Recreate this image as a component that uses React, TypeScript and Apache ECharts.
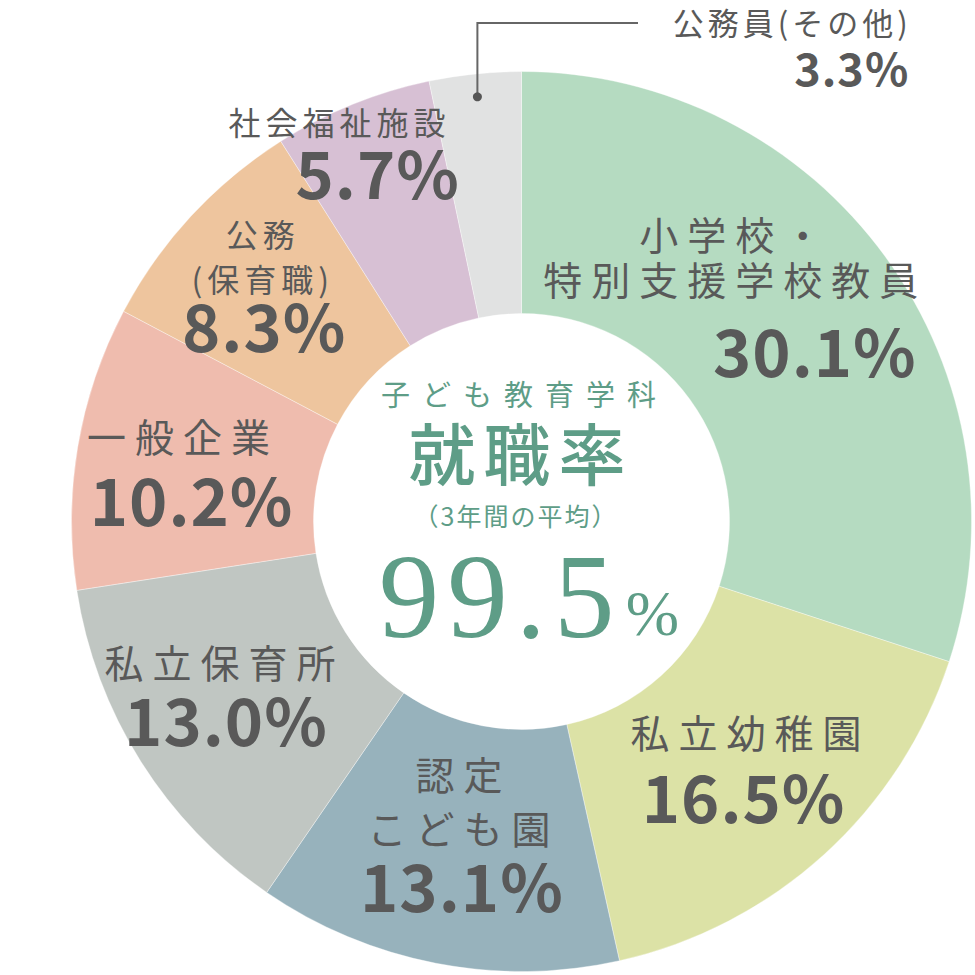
import React, { useEffect, useRef } from 'react';
import * as echarts from 'echarts';

// ---- data ----
const categories = [
  '小学校・\n特別支援学校教員',
  '私立幼稚園',
  '認定\nこども園',
  '私立保育所',
  '一般企業',
  '公務\n(保育職)',
  '社会福祉施設',
  '公務員(その他)',
];
const values = [30.1, 16.5, 13.1, 13.0, 10.2, 8.3, 5.7, 3.3];
const centerTitle = '子ども教育学科';
const centerHeading = '就職率';
const centerNote = '（3年間の平均）';
const centerRate = '99.5';
const centerUnit = '%';

// ---- styling ----
const colors = ['#b5dbc1', '#dce2a6', '#97b2bc', '#c0c6c2', '#efbcae', '#eec59e', '#d7c0d4', '#e1e2e2'];
const nameOffsets = [[-55, -71], [6, -36], [5, -47.5], [-16, -37.6], [-11, -32], [-15, -40.7], [-57, -92.7], [305, -170]];
const nameSizes = [39, 39, 39, 39, 39, 32, 32, 31];
const nameLineHeights = [45, 45, 54, 45, 45, 45, 45, 45];
const pctOffsets = [[24.5, 22.5], [-1, 28], [3.5, 36.5], [-14.5, 19.4], [-2.5, 31], [-13.5, 28], [-19, -42.7], [364.5, -124.5]];
const pctSizes = [65, 65, 65, 65, 65, 65, 65, 45];

const CX = 521.5;
const CY = 521.5;
const R0 = 208;
const R1 = 450;
const TEXT = '#595959';
const GREEN = '#5e9d87';
const JP = '"Noto Sans CJK JP", "Noto Sans", sans-serif';

const css = `
.chart-root text[style*="39px"]{letter-spacing:9px}
.chart-root text[style*="32px"]{letter-spacing:5px}
.chart-root text[style*="31px"]{letter-spacing:4px}
.chart-root text[style*="65px"]{letter-spacing:1px}
.chart-root text[style*="45px"]{letter-spacing:1px}
.chart-root text[style*="29px"]{letter-spacing:12px}
.chart-root text[style*="67px"]{letter-spacing:8px}
.chart-root text[style*="25px"]{letter-spacing:2px}
.chart-root text[style*="121px"]{letter-spacing:8px}
`;

export default function App() {
  const ref = useRef<HTMLDivElement>(null);
  useEffect(() => {
    if (!ref.current) return;
    const chart = echarts.init(ref.current, null, { renderer: 'svg' });
    const total = values.reduce((a, b) => a + b, 0);
    // leader dot for the last (smallest) slice, from pie geometry
    const before = values.slice(0, values.length - 1).reduce((a, b) => a + b, 0);
    const mid = ((before + values[values.length - 1] / 2) / total) * Math.PI * 2;
    const dotR = 427;
    const dx = CX + dotR * Math.sin(mid);
    const dy = CY - dotR * Math.cos(mid);

    const nameData = categories.map((n, i) => ({
      name: n,
      value: values[i],
      itemStyle: { color: colors[i] },
      label: {
        offset: nameOffsets[i],
        fontSize: nameSizes[i],
        lineHeight: nameLineHeights[i],
      },
    }));
    const pctData = categories.map((n, i) => ({
      name: n,
      value: values[i],
      label: { offset: pctOffsets[i], fontSize: pctSizes[i], lineHeight: Math.round(pctSizes[i] * 0.75) },
    }));

    chart.setOption({
      animation: false,
      backgroundColor: '#ffffff',
      series: [
        {
          type: 'pie',
          silent: true,
          center: [CX, CY],
          radius: [R0, R1],
          startAngle: 90,
          clockwise: true,
          avoidLabelOverlap: false,
          labelLayout: { hideOverlap: false },
          itemStyle: { borderColor: 'rgba(255,255,255,0.6)', borderWidth: 0.6 },
          label: {
            show: true,
            position: 'inside',
            formatter: (p: any) => p.name,
            color: TEXT,
            fontFamily: JP,
            fontWeight: 'normal',
            align: 'center',
          },
          labelLine: { show: false },
          data: nameData,
        },
        {
          type: 'pie',
          silent: true,
          center: [CX, CY],
          radius: [R0, R1],
          startAngle: 90,
          clockwise: true,
          avoidLabelOverlap: false,
          labelLayout: { hideOverlap: false },
          itemStyle: { color: 'rgba(0,0,0,0)', borderWidth: 0 },
          label: {
            show: true,
            position: 'inside',
            formatter: (p: any) => `${Number(p.value).toFixed(1)}%`,
            color: TEXT,
            fontFamily: JP,
            fontWeight: 'bold',
          },
          labelLine: { show: false },
          data: pctData,
        },
      ],
      graphic: [
        {
          type: 'polyline',
          silent: true,
          z: 100,
          shape: { points: [[dx, dy], [dx, 23], [638, 23]] },
          style: { stroke: '#666666', lineWidth: 2, fill: null },
        },
        {
          type: 'circle',
          silent: true,
          z: 100,
          shape: { cx: dx, cy: dy, r: 4.5 },
          style: { fill: '#555555' },
        },
        {
          type: 'text',
          z: 100,
          x: 524.5,
          y: 393,
          style: {
            text: centerTitle, fill: GREEN, fontSize: 29, fontFamily: JP,
            textAlign: 'center', align: 'center', textVerticalAlign: 'middle', verticalAlign: 'middle',
          },
        },
        {
          type: 'text',
          z: 100,
          x: 521,
          y: 450,
          style: {
            text: centerHeading, fill: GREEN, fontSize: 67, fontWeight: 500, fontFamily: JP,
            textAlign: 'center', align: 'center', textVerticalAlign: 'middle', verticalAlign: 'middle',
          },
        },
        {
          type: 'text',
          z: 100,
          x: 516,
          y: 515,
          style: {
            text: centerNote, fill: GREEN, fontSize: 25, fontFamily: JP,
            textAlign: 'center', align: 'center', textVerticalAlign: 'middle', verticalAlign: 'middle',
          },
        },
        {
          type: 'text',
          z: 100,
          x: 500.5,
          y: 596,
          style: {
            text: centerRate, fill: GREEN, fontSize: 121, fontFamily: '"Liberation Serif", serif',
            textAlign: 'center', align: 'center', textVerticalAlign: 'middle', verticalAlign: 'middle',
          },
        },
        {
          type: 'text',
          z: 100,
          x: 652.5,
          y: 613.5,
          style: {
            text: centerUnit, fill: GREEN, fontSize: 64, fontFamily: '"Liberation Serif", serif',
            textAlign: 'center', align: 'center', textVerticalAlign: 'middle', verticalAlign: 'middle',
          },
        },
      ],
    });
    return () => chart.dispose();
  }, []);
  return (
    <>
      <style>{css}</style>
      <div
        ref={ref}
        className="chart-root"
        style={{ position: 'absolute', left: 0, top: 0, width: 975, height: 975, background: '#fff' }}
      />
    </>
  );
}
